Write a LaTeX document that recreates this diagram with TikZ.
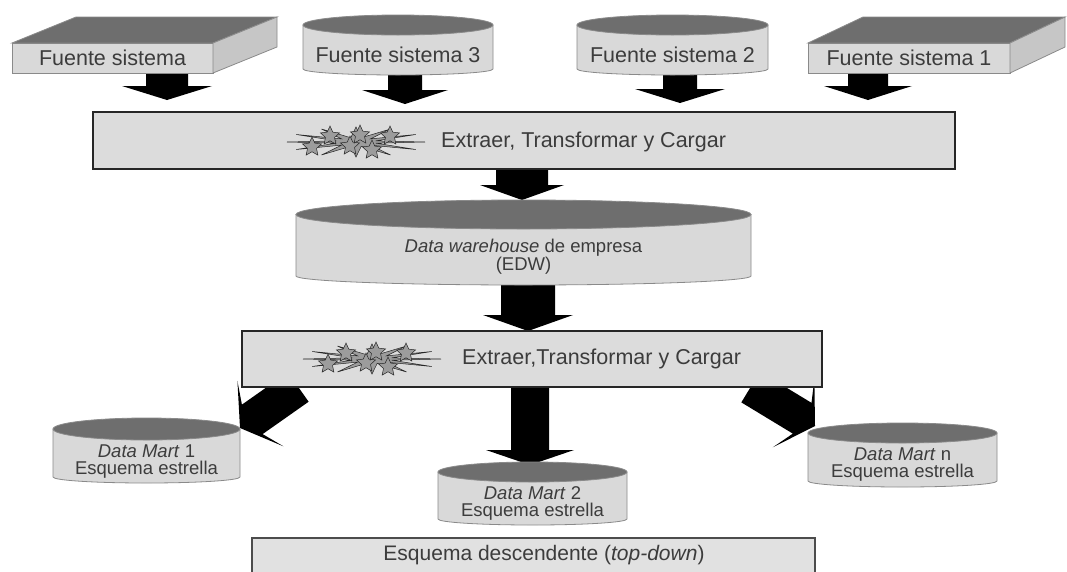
\documentclass[tikz,border=0pt]{standalone}
\usepackage{fontspec}
\setmainfont{Liberation Sans}
\usetikzlibrary{calc,shapes.geometric}

\pgfdeclarelayer{arrows}
\pgfdeclarelayer{bodies}
\pgfsetlayers{arrows,bodies,main}

\definecolor{bodygray}{HTML}{D9D9D9}
\definecolor{topgray}{HTML}{6E6E6E}
\definecolor{sidegray}{HTML}{C6C6C6}
\definecolor{boxgray}{HTML}{DCDCDC}
\definecolor{edgegray}{HTML}{8A8A8A}
\definecolor{inkgray}{HTML}{3C3C3C}
\definecolor{stargray}{HTML}{9C9C9C}

\tikzset{
  area/.style 2 args={minimum width=#1, minimum height=#2, inner sep=0pt, outer sep=0pt},
  bigtext/.style={text=inkgray, font=\fontsize{21.5}{24}\selectfont},
  smalltext/.style={text=inkgray, font=\fontsize{18.5}{17}\selectfont, align=center},
  etlbox/.style={draw=black!85, fill=boxgray, line width=1.2pt},
  plain/.style={inner sep=0pt, text=inkgray},
  % thick block arrow: shaft half width, head half width, head length, barb sweep
  fatarrow/.style n args={4}{fill=black, to path={
    let \p1=(\tikztostart), \p2=(\tikztotarget),
        \p3=($(\p2)!#3!(\p1)$), \p4=($(\p2)!#3+#4!(\p1)$) in
    ($(\p1)!#1!90:(\p2)$) -- ($(\p3)!#1!-90:(\p1)$) -- ($(\p4)!#2!-90:(\p1)$)
    -- (\p2) -- ($(\p4)!#2!90:(\p1)$) -- ($(\p3)!#1!90:(\p1)$)
    -- ($(\p1)!#1!-90:(\p2)$) -- cycle}},
  burst/.pic={
    \begin{scope}[xscale=4.6]
      \node[star, star points=12, star point ratio=3.4, draw=black!85, fill=stargray,
            line width=0.5pt, minimum size=30pt, inner sep=0pt, transform shape] (-spray) {};
    \end{scope}
    \foreach \sx/\sy [count=\k] in {-26/-6, 34/-6, -44/5, -6/4, 16/8, 4/-7}
      \node[star, star points=5, star point ratio=2.1, draw=black!85, fill=stargray,
            line width=0.5pt, minimum size=20pt, inner sep=0pt] (-st\k) at (\sx,\sy) {};
  }
}

% cylinder drawn around a node that covers its visible front face
\newcommand\cylbody[3]{%
  \begin{pgfonlayer}{bodies}
  \path[fill=bodygray, draw=edgegray, line width=0.8pt]
    let \p1=(#1.north west), \p2=(#1.south east), \n1={(\x2-\x1)/2} in
    (\x1,{\y1+#2}) -- (\x1,{\y2+#3})
    arc[start angle=180, end angle=360, x radius=\n1, y radius=#3]
    -- (\x2,{\y1+#2}) -- cycle;
  \path[fill=topgray, draw=edgegray, line width=0.8pt]
    let \p1=(#1.north west), \p2=(#1.north east), \n1={(\x2-\x1)/2} in
    ({\x1+\n1*1pt},{\y1+#2}) ellipse[x radius=\n1, y radius=#2];
  \end{pgfonlayer}}

% flat box in perspective around a node that covers its front face
\newcommand\slabbody[3]{%
  \begin{pgfonlayer}{bodies}
  \path[fill=bodygray, draw=edgegray, line width=0.8pt]
    (#1.north west) rectangle (#1.south east);
  \path[fill=topgray, draw=edgegray, line width=0.8pt]
    (#1.north west) -- (#1.north east) -- ++(#2,#3)
    -- ($(#1.north west)+(#2,#3)$) -- cycle;
  \path[fill=sidegray, draw=edgegray, line width=0.8pt]
    (#1.north east) -- ++(#2,#3) -- ($(#1.south east)+(#2,#3)$)
    -- (#1.south east) -- cycle;
  \end{pgfonlayer}}

\begin{document}
\begin{tikzpicture}[x=1pt, y=-1pt]
\useasboundingbox (0,0) rectangle (1067,571);
\begin{pgfonlayer}{arrows}
  \fill[white] (0,0) rectangle (1067,571);
\end{pgfonlayer}
\clip (0,0) rectangle (1067,571);

% source systems
\node[area={201pt}{30pt}, bigtext] (fs) at (112.5,58) {Fuente sistema};
\slabbody{fs}{64}{-26}
\node[area={190pt}{40pt}, bigtext] (fs3) at (398,55) {Fuente sistema 3};
\cylbody{fs3}{10pt}{6pt}
\node[area={191pt}{40pt}, bigtext] (fs2) at (672.5,55) {Fuente sistema 2};
\cylbody{fs2}{10pt}{6pt}
\node[area={202pt}{30pt}, bigtext] (fs1) at (909,58) {Fuente sistema 1};
\slabbody{fs1}{55}{-26}

% first ETL stage
\node[etlbox, area={862pt}{57pt}] (etl1) at (524,140.5) {};
\pic (b1) at (356,142) {burst};
\node[plain, bigtext, anchor=west] (etl1txt) at (441,142) {Extraer, Transformar y Cargar};

% enterprise data warehouse
\node[area={455pt}{56pt}, smalltext] (edw) at (523.5,257)
  {\textit{Data warehouse} de empresa\\(EDW)};
\cylbody{edw}{14.5pt}{9pt}

% second ETL stage
\node[etlbox, area={580pt}{56pt}] (etl2) at (532,359) {};
\pic (b2) at (372,359) {burst};
\node[plain, bigtext, anchor=west] (etl2txt) at (462,359) {Extraer,Transformar y Cargar};

% data marts
\node[area={187pt}{43pt}, smalltext] (dm1) at (146.5,461.5)
  {\textit{Data Mart} 1\\Esquema estrella};
\cylbody{dm1}{11pt}{6pt}
\node[area={189pt}{43pt}, smalltext] (dm2) at (532.5,503.5)
  {\textit{Data Mart} 2\\Esquema estrella};
\cylbody{dm2}{10pt}{6pt}
\node[area={189pt}{44pt}, smalltext] (dmn) at (902.5,465)
  {\textit{Data Mart} n\\Esquema estrella};
\cylbody{dmn}{10pt}{6pt}

% caption box
\node[draw=black!70, fill=boxgray!85!white, line width=1.2pt, area={563pt}{44pt}] (td) at (533.5,560) {};
\node[plain, bigtext, font=\fontsize{21}{24}\selectfont] (tdtxt) at (544,555)
  {Esquema descendente (\textit{top-down})};

% arrow tips
\coordinate (t1) at (167,100);
\coordinate (t2) at (405,104);
\coordinate (t3) at (680,103);
\coordinate (t4) at (868,100);
\coordinate (t5) at (522,200);
\coordinate (t6) at (528,331);
\coordinate (t7) at (240,428);
\coordinate (t8) at (530,465);
\coordinate (t9) at (815,426);

\begin{pgfonlayer}{arrows}
  \path[fatarrow={21pt}{45pt}{14pt}{0pt}] (fs.south -| t1) to (t1);
  \path[fatarrow={17pt}{43pt}{14pt}{0pt}] (fs3.south -| t2) to (t2);
  \path[fatarrow={17pt}{45pt}{14pt}{0pt}] (fs2.south -| t3) to (t3);
  \path[fatarrow={20pt}{44pt}{14pt}{0pt}] (fs1.south -| t4) to (t4);
  \path[fatarrow={26pt}{42pt}{15pt}{0pt}] (etl1.south -| t5) to (t5);
  \path[fatarrow={27pt}{45pt}{16pt}{0pt}] (edw.south -| t6) to (t6);
  \path[fatarrow={18pt}{40pt}{15pt}{10pt}] ($(etl2.south west)!0.097!(etl2.south east)$) to (t7);
  \path[fatarrow={19pt}{44pt}{15pt}{0pt}] (etl2.south -| t8) to (t8);
  \path[fatarrow={18pt}{40pt}{15pt}{10pt}] ($(etl2.south west)!0.877!(etl2.south east)$) to (t9);
\end{pgfonlayer}
\end{tikzpicture}
\end{document}
